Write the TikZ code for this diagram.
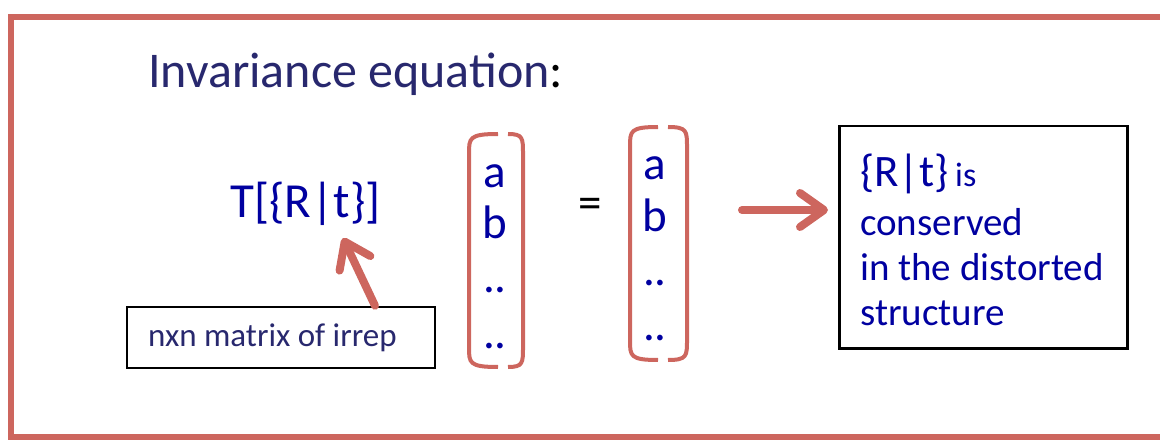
\documentclass[tikz,border=0pt]{standalone}
\usepackage{fontspec}
\setmainfont{Carlito}
\usetikzlibrary{arrows.meta}

\definecolor{framered}{RGB}{205,102,94}
\definecolor{textblue}{RGB}{0,0,160}
\definecolor{navy}{RGB}{40,40,110}

\begin{document}
\begin{tikzpicture}[x=1pt, y=-1pt,
    redarrow/.style={draw=framered, line width=8pt, line cap=round,
      -{Straight Barb[length=24pt, width=34pt, line cap=round, line join=round]}},
    bracket/.style={draw=framered, line width=4pt},
    entry/.style={text=textblue, font=\fontsize{47}{54}\selectfont, anchor=base, inner sep=0pt},
    box/.style={draw=black, line width=2.5pt, inner sep=0pt}]
  \useasboundingbox (0,0) rectangle (1160,441);

  % outer frame, open on the right
  \draw[framered, line width=6pt] (1165,17) -- (11,17) -- (11,437) -- (1165,437);

  \node[anchor=base west, text=navy, font=\fontsize{50}{60}\selectfont, inner sep=0pt]
    (title) at (148,88) {Invariance equation\textcolor{black}{:}};

  \node[anchor=base west, text=textblue, font=\fontsize{49}{58}\selectfont, inner sep=0pt]
    (trep) at (230,218) {T[\{R|t\}]};

  \node[box, minimum width=308pt, minimum height=61pt, text width=266pt, inner xsep=21pt,
        align=flush left, text=navy, font=\fontsize{33}{40}\selectfont]
    (irrep) at (281,337.5) {nxn matrix of irrep};

  % column vectors
  \foreach \e/\yl/\yr [count=\i] in {a/187/180, b/238/232, ../292/285, ../348/340}{
    \node[entry] (vl\i) at (495,\yl) {\e};
    \node[entry] (vr\i) at (655,\yr) {\e};
  }
  \node[font=\fontsize{47}{54}\selectfont, inner sep=0pt] (eq) at (590,208) {=};

  \foreach \xl/\xm/\xr/\yt/\yb in {469/503/523/134/367, 630/663/687/127/360}{
    \draw[bracket] (\xm-5,\yt) .. controls (\xl,\yt) and (\xl,\yt+4) .. (\xl,\yt+20)
      -- (\xl,\yb-20) .. controls (\xl,\yb-4) and (\xl,\yb) .. (\xm-5,\yb);
    \draw[bracket] (\xm+5,\yt) .. controls (\xr,\yt) and (\xr,\yt+4) .. (\xr,\yt+20)
      -- (\xr,\yb-20) .. controls (\xr,\yb-4) and (\xr,\yb) .. (\xm+5,\yb);
  }

  \node[box, minimum width=288pt, minimum height=222pt, anchor=north west] (result) at (838,125) {};
  \node[anchor=base west, text=textblue, align=left, inner sep=0pt,
        font=\fontsize{39}{45}\selectfont] (resulttext) at (860,325)
    {{\fontsize{45}{45}\selectfont\{R|t\}}\,{\fontsize{34}{45}\selectfont is}\\[4pt]
     conserved\\in the distorted\\structure};

  \coordinate (tip) at (343,238);
  \coordinate (start) at (742,210);
  \draw[redarrow] (irrep.north -| 375,0) -- (tip);
  \draw[redarrow, shorten >=10pt] (start) -- (start -| result.west);
\end{tikzpicture}
\end{document}
